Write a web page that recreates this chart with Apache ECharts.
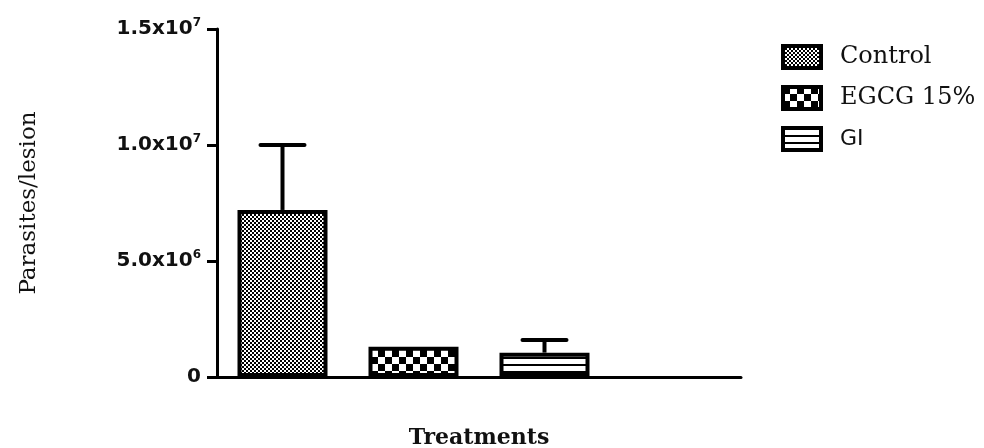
<!DOCTYPE html>
<html>
<head>
<meta charset="utf-8">
<script src="https://cdn.jsdelivr.net/npm/echarts@6/dist/echarts.min.js"></script>
<style>
  html, body { margin: 0; padding: 0; background: #fff; }
  #chart { width: 984px; height: 448px; }
</style>
</head>
<body>
<div id="chart"></div>
<script>
// data
const categories = ["Control", "EGCG 15%", "GI", ""];
const seriesNames = ["Control", "EGCG 15%", "GI"];
const means = [7.2e6, 1.3e6, 1.05e6];
const errTops = [1.0e7, null, 1.6e6];
const yTicks = [0, 5e6, 1e7, 1.5e7];

// fill patterns drawn on small canvases
function makePattern(kind) {
  const c = document.createElement("canvas");
  const ctx = c.getContext("2d");
  if (kind === "fine") {
    c.width = 4; c.height = 4;
    ctx.fillStyle = "#fff"; ctx.fillRect(0, 0, 4, 4);
    ctx.fillStyle = "#000";
    ctx.fillRect(0, 0, 2, 2); ctx.fillRect(2, 2, 2, 2);
  } else if (kind === "checker") {
    c.width = 14; c.height = 14;
    ctx.fillStyle = "#fff"; ctx.fillRect(0, 0, 14, 14);
    ctx.fillStyle = "#000";
    ctx.fillRect(0, 0, 7, 7); ctx.fillRect(7, 7, 7, 7);
  } else {
    c.width = 6; c.height = 7;
    ctx.fillStyle = "#fff"; ctx.fillRect(0, 0, 6, 7);
    ctx.fillStyle = "#000";
    ctx.fillRect(0, 0, 6, 2);
  }
  return { image: c, repeat: "repeat" };
}
const patterns = [makePattern("fine"), makePattern("checker"), makePattern("stripes")];

const chart = echarts.init(document.getElementById("chart"), null, { renderer: "canvas" });

const barSeries = seriesNames.map((name, i) => ({
  name: name,
  type: "bar",
  barWidth: 90,
  barGap: "-100%",
  data: categories.map((c, j) => (j === i ? means[i] : null)),
  itemStyle: { color: patterns[i], borderColor: "#000", borderWidth: 4 },
  z: 2
}));

const errSeries = {
  type: "custom",
  z: 1,
  silent: true,
  data: means.map((m, i) => [i, m, errTops[i]]).filter(d => d[2] != null),
  renderItem: function (params, api) {
    const base = api.coord([api.value(0), api.value(1)]);
    const top = api.coord([api.value(0), api.value(2)]);
    const half = 22;
    return {
      type: "group",
      children: [
        { type: "line", shape: { x1: base[0], y1: base[1], x2: top[0], y2: top[1] },
          style: { stroke: "#000", lineWidth: 4 } },
        { type: "line", shape: { x1: top[0] - half, y1: top[1], x2: top[0] + half, y2: top[1] },
          style: { stroke: "#000", lineWidth: 4, lineCap: "round" } }
      ]
    };
  }
};

chart.setOption({
  backgroundColor: "#fff",
  animation: false,
  grid: { left: 217, right: 243, top: 29, bottom: 71, outerBoundsMode: "none" },
  legend: {
    orient: "vertical",
    left: 776,
    top: 39,
    icon: "rect",
    itemWidth: 38,
    itemHeight: 22,
    itemGap: 15,
    data: seriesNames,
    itemStyle: { borderColor: "#000", borderWidth: 4 },
    formatter: function (name) {
      return name === "GI" ? "{s|" + name + "}" : "{r|" + name + "}";
    },
    textStyle: {
      rich: {
        r: { fontFamily: "DejaVu Serif", fontSize: 24, color: "#111", padding: [0, 0, 0, 14] },
        s: { fontFamily: "DejaVu Sans", fontSize: 22, color: "#111", padding: [0, 0, 0, 14] }
      }
    }
  },
  xAxis: {
    type: "category",
    data: categories,
    name: "Treatments",
    nameLocation: "middle",
    nameGap: 50,
    nameTextStyle: { fontFamily: "DejaVu Serif", fontWeight: "bold", fontSize: 22, color: "#111" },
    axisLine: { lineStyle: { color: "#000", width: 3 } },
    axisTick: { alignWithLabel: true, length: 11, lineStyle: { color: "#000", width: 3 } },
    axisLabel: { show: false }
  },
  yAxis: {
    type: "value",
    min: yTicks[0],
    max: yTicks[yTicks.length - 1],
    interval: yTicks[1] - yTicks[0],
    name: "Parasites/lesion",
    nameLocation: "middle",
    nameGap: 176,
    nameTextStyle: { fontFamily: "DejaVu Serif", fontSize: 23, color: "#111" },
    splitLine: { show: false },
    axisLine: { show: true, lineStyle: { color: "#000", width: 3 } },
    axisTick: { show: true, length: 10, lineStyle: { color: "#000", width: 3 } },
    axisLabel: {
      margin: 16,
      formatter: function (v) {
        if (v === 0) return "{n|0}";
        const e = Math.floor(Math.log10(v));
        const m = (v / Math.pow(10, e)).toFixed(1);
        return "{n|" + m + "x10}{s|" + e + "}";
      },
      rich: {
        n: { fontFamily: "DejaVu Sans", fontWeight: "bold", fontSize: 20, color: "#111", lineHeight: 24 },
        s: { fontFamily: "DejaVu Sans", fontWeight: "bold", fontSize: 12, color: "#111", verticalAlign: "top", lineHeight: 14 }
      }
    }
  },
  series: barSeries.concat([errSeries])
});
</script>
</body>
</html>
